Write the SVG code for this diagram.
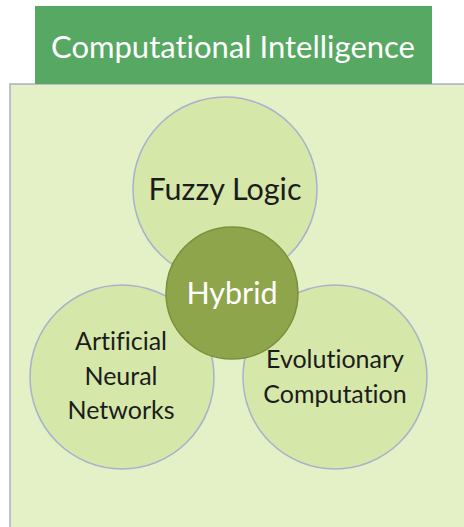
<svg xmlns="http://www.w3.org/2000/svg" width="464" height="527" viewBox="0 0 464 527">
  <style>
    .set { fill: #d5e7a9; stroke: #a9b2cc; stroke-width: 1.5; }
    .label { font-family: Lato, "Open Sans", sans-serif; fill: #1c1c1c; text-anchor: middle; font-variant-ligatures: none; }
    .light { fill: #ffffff; }
  </style>
  <rect width="464" height="527" fill="#ffffff"/>
  <!-- outer field -->
  <g id="field">
    <rect x="10" y="84" width="460" height="460" fill="#e4f0c6" stroke="#aab0cc" stroke-width="1.5"/>
  </g>
  <!-- title bar -->
  <g id="title">
    <rect x="35" y="6" width="397" height="78" fill="#57a862"/>
    <text class="label light" x="233" y="58" font-size="31">Computational Intelligence</text>
  </g>
  <g id="connectors"></g>
  <g id="fuzzy">
    <circle class="set" cx="225" cy="189" r="92"/>
    <text class="label" x="225" y="200" font-size="30.5">Fuzzy Logic</text>
  </g>
  <g id="ann">
    <circle class="set" cx="122" cy="377" r="92"/>
    <text class="label" x="121" y="350" font-size="25">Artificial</text>
    <text class="label" x="121" y="385" font-size="25">Neural</text>
    <text class="label" x="121" y="419" font-size="25">Networks</text>
  </g>
  <g id="evolutionary">
    <circle class="set" cx="335" cy="377" r="92"/>
    <text class="label" x="335" y="368" font-size="25">Evolutionary</text>
    <text class="label" x="335" y="403" font-size="25">Computation</text>
  </g>
  <g id="hybrid">
    <circle cx="232" cy="293" r="66" fill="#8fa54c" stroke="#7a913c" stroke-width="1.5"/>
    <text class="label light" x="232" y="304" font-size="30.5">Hybrid</text>
  </g>
</svg>
